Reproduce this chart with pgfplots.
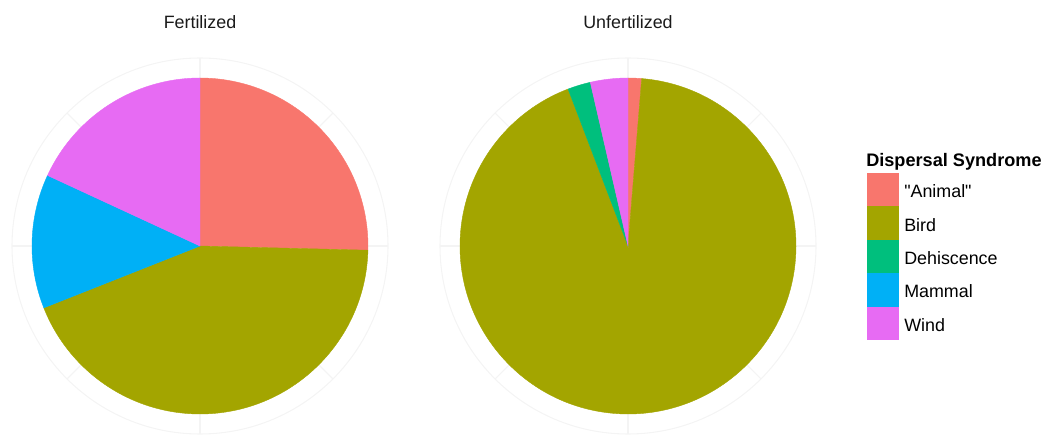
\documentclass[border=0pt]{standalone}
\usepackage{pgfplots}
\pgfplotsset{compat=1.18}
\usepackage{pgfplotstable}
\usepackage{fontspec}
\setmainfont{Liberation Sans}[Ligatures=TeXReset]
\usetikzlibrary{calc}

\definecolor{cAnimal}{HTML}{F8766D}
\definecolor{cBird}{HTML}{A3A500}
\definecolor{cDehiscence}{HTML}{00BF7D}
\definecolor{cMammal}{HTML}{00B0F6}
\definecolor{cWind}{HTML}{E76BF3}
\definecolor{gridc}{HTML}{F4F4F4}
\definecolor{txt}{HTML}{1A1A1A}

% share of each dispersal syndrome (percent)
\pgfplotstableread{
syndrome    fert  unfert
Animal      25.4  1.3
Bird        43.6  92.9
Dehiscence  0     2.2
Mammal      12.9  0
Wind        18.1  3.6
}\pietable

% build the slice commands of one pie from a table column
\newcommand\buildpie[4]{% #1 column, #2 cx, #3 cy, #4 macro
  \gdef#4{}%
  \xdef\pietot{0}%
  \foreach \r in {0,...,4}{%
    \pgfplotstablegetelem{\r}{#1}\of\pietable
    \pgfmathsetmacro\tmp{\pietot+\pgfplotsretval}%
    \xdef\pietot{\tmp}}%
  \xdef\piecum{0}%
  \foreach \r/\col in {0/cAnimal,1/cBird,2/cDehiscence,3/cMammal,4/cWind}{%
    \pgfplotstablegetelem{\r}{#1}\of\pietable
    \pgfmathsetmacro\sa{90-(\piecum/\pietot)*360}%
    \pgfmathsetmacro\newcum{\piecum+\pgfplotsretval}%
    \pgfmathsetmacro\sb{90-(\newcum/\pietot)*360}%
    \xdef\piecum{\newcum}%
    \ifdim\pgfplotsretval pt>0pt
      \xdef#4{\unexpanded\expandafter{#4}\noexpand\filldraw[fill=\col, draw=\col, line width=0.3pt] (axis cs:#2,#3) -- ($(axis cs:#2,#3)+(\sa:126pt)$) arc[start angle=\sa, end angle=\sb, radius=126pt] -- cycle;}%
    \fi
  }%
}
\buildpie{fert}{200}{190}{\pieF}
\buildpie{unfert}{628}{190}{\pieU}

\begin{document}
\begin{tikzpicture}
\begin{axis}[hide axis, scale only axis, width=787.5pt, height=327pt,
  xmin=0, xmax=1050, ymin=0, ymax=436, clip=false]
\path (axis cs:0,0) rectangle (axis cs:1050,436);
% polar grid
\draw[gridc, line width=0.8pt] (axis cs:200,190) circle[radius=141pt];
\draw[gridc, line width=0.8pt] (axis cs:628,190) circle[radius=141pt];
\pgfplotsinvokeforeach{0,45,...,315}{
  \draw[gridc, line width=0.8pt] (axis cs:200,190) -- ($(axis cs:200,190)+(#1:141pt)$);
  \draw[gridc, line width=0.8pt] (axis cs:628,190) -- ($(axis cs:628,190)+(#1:141pt)$);
}
% pies
\pieF
\pieU
% titles
\node[anchor=base, inner sep=0, text=txt, font=\fontsize{13.4}{16}\selectfont] at (axis cs:200,407) {Fertilized};
\node[anchor=base, inner sep=0, text=txt, font=\fontsize{13.4}{16}\selectfont] at (axis cs:628,407) {Unfertilized};
% legend
\node[anchor=base west, inner sep=0, text=black, font=\bfseries\fontsize{13.6}{16}\selectfont] at (axis cs:866,269.3) {Dispersal Syndrome};
\fill[cAnimal]     (axis cs:867,263)   rectangle (axis cs:899,229.6);
\fill[cBird]       (axis cs:867,229.6) rectangle (axis cs:899,196.2);
\fill[cDehiscence] (axis cs:867,196.2) rectangle (axis cs:899,162.8);
\fill[cMammal]     (axis cs:867,162.8) rectangle (axis cs:899,129.4);
\fill[cWind]       (axis cs:867,129.4) rectangle (axis cs:899,96);
\node[anchor=base west, inner sep=0, font=\fontsize{13.4}{16}\selectfont] at (axis cs:904,238.3) {"Animal"};
\node[anchor=base west, inner sep=0, font=\fontsize{13.4}{16}\selectfont] at (axis cs:904,204.9) {Bird};
\node[anchor=base west, inner sep=0, font=\fontsize{13.4}{16}\selectfont] at (axis cs:904,171.5) {Dehiscence};
\node[anchor=base west, inner sep=0, font=\fontsize{13.4}{16}\selectfont] at (axis cs:904,138.1) {Mammal};
\node[anchor=base west, inner sep=0, font=\fontsize{13.4}{16}\selectfont] at (axis cs:904,104.7) {Wind};
\end{axis}
\end{tikzpicture}
\end{document}
